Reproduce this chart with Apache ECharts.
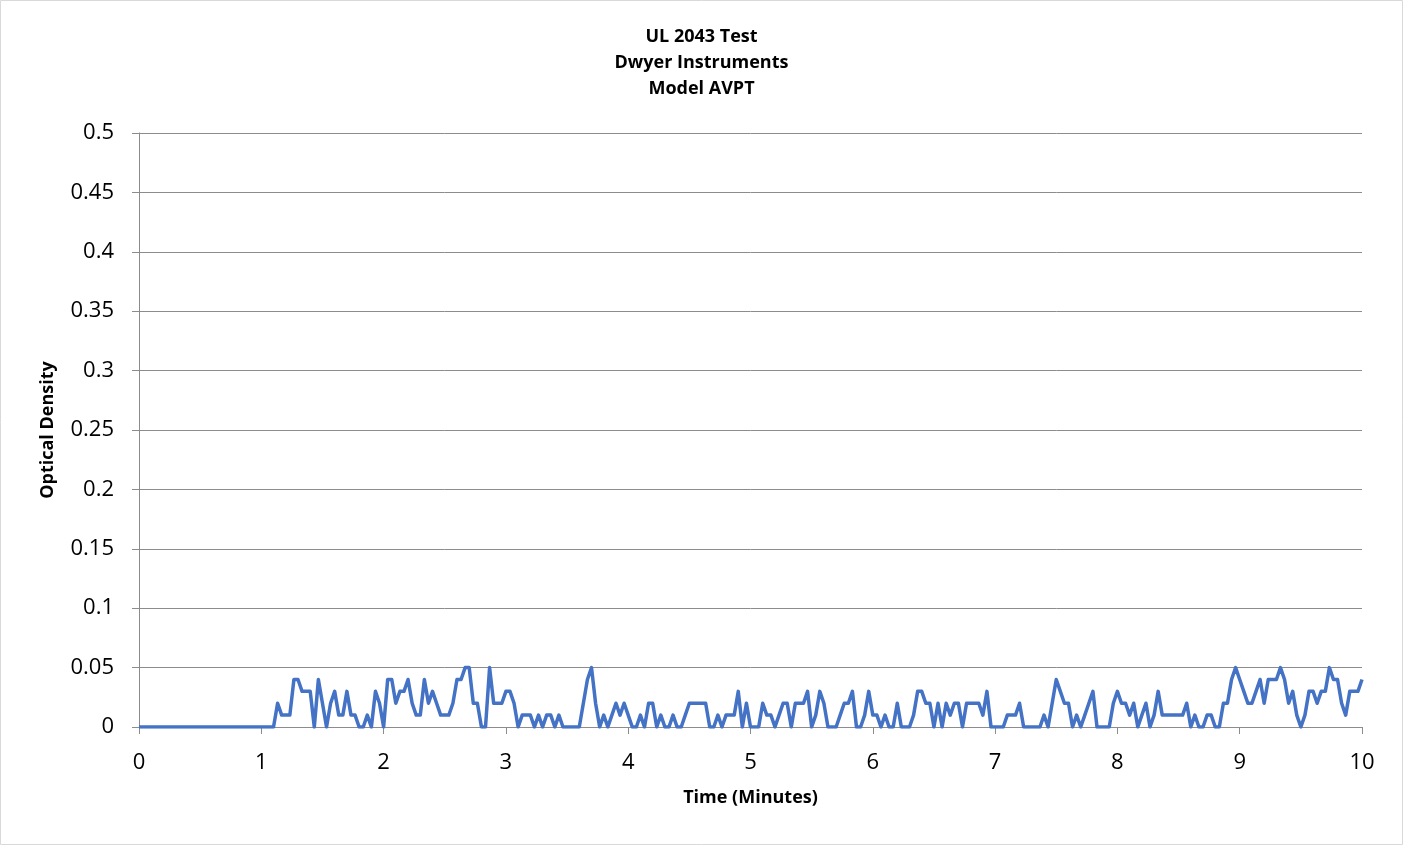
<!DOCTYPE html>
<html>
<head>
<meta charset="utf-8">
<script src="https://cdn.jsdelivr.net/npm/echarts@6/dist/echarts.min.js"></script>
<style>
html,body{margin:0;padding:0;background:#fff;}
#chart{width:1403px;height:845px;}
</style>
</head>
<body>
<div id="chart"></div>
<script>
// Chart text
const titleLines = ["UL 2043 Test", "Dwyer Instruments", "Model AVPT"];
const xAxisTitle = "Time (Minutes)";
const yAxisTitle = "Optical Density";

// Sampling step of the recorded series (seconds between readings)
const sampleSeconds = 2;

// Optical density readings, one every sampleSeconds, from t = 0 to 10 minutes
const opticalDensity = [
  0,0,0,0,0,0,0,0,0,0, 0,0,0,0,0,0,0,0,0,0, 0,0,0,0,0,0,0,0,0,0, 0,0,0,0,
  0.02,0.01,0.01,0.01,0.04,0.04,0.03,0.03,0.03,0,
  0.04,0.02,0,0.02,0.03,0.01,0.01,0.03,0.01,0.01,
  0,0,0.01,0,0.03,0.02,0,0.04,0.04,0.02,
  0.03,0.03,0.04,0.02,0.01,0.01,0.04,0.02,0.03,0.02,
  0.01,0.01,0.01,0.02,0.04,0.04,0.05,0.05,0.02,0.02,
  0,0,0.05,0.02,0.02,0.02,0.03,0.03,0.02,0,
  0.01,0.01,0.01,0,0.01,0,0.01,0.01,0,0.01,
  0,0,0,0,0,0.02,0.04,0.05,0.02,0,
  0.01,0,0.01,0.02,0.01,0.02,0.01,0,0,0.01,
  0,0.02,0.02,0,0.01,0,0,0.01,0,0,
  0.01,0.02,0.02,0.02,0.02,0.02,0,0,0.01,0,
  0.01,0.01,0.01,0.03,0,0.02,0,0,0,0.02,
  0.01,0.01,0,0.01,0.02,0.02,0,0.02,0.02,0.02,
  0.03,0,0.01,0.03,0.02,0,0,0,0.01,0.02,
  0.02,0.03,0,0,0.01,0.03,0.01,0.01,0,0.01,
  0,0,0.02,0,0,0,0.01,0.03,0.03,0.02,
  0.02,0,0.02,0,0.02,0.01,0.02,0.02,0,0.02,
  0.02,0.02,0.02,0.01,0.03,0,0,0,0,0.01,
  0.01,0.01,0.02,0,0,0,0,0,0.01,0,
  0.02,0.04,0.03,0.02,0.02,0,0.01,0,0.01,0.02,
  0.03,0,0,0,0,0.02,0.03,0.02,0.02,0.01,
  0.02,0,0.01,0.02,0,0.01,0.03,0.01,0.01,0.01,
  0.01,0.01,0.01,0.02,0,0.01,0,0,0.01,0.01,
  0,0,0.02,0.02,0.04,0.05,0.04,0.03,0.02,0.02,
  0.03,0.04,0.02,0.04,0.04,0.04,0.05,0.04,0.02,0.03,
  0.01,0,0.01,0.03,0.03,0.02,0.03,0.03,0.05,0.04,
  0.04,0.02,0.01,0.03,0.03,0.03,0.04
];

// Axis ranges and ticks
const xMin = 0, xMax = 10, xInterval = 1;
const yMin = 0, yMax = 0.5, yInterval = 0.05;

const seriesData = opticalDensity.map((v, i) => [i * sampleSeconds / 60, v]);

const labelFont = "'Open Sans', 'Noto Sans', sans-serif";
const boldFont = "'Open Sans', 'Noto Sans', sans-serif";
const gridColor = "#8c8c8c";

const chart = echarts.init(document.getElementById('chart'), null, {renderer: 'canvas'});
chart.setOption({
  backgroundColor: '#ffffff',
  animation: false,
  graphic: [{
    type: 'rect',
    shape: {x: 0.5, y: 0.5, width: 1402, height: 844},
    style: {fill: 'none', stroke: '#d9d9d9', lineWidth: 1},
    silent: true
  }],
  title: {
    text: titleLines.join('\n'),
    left: 'center',
    top: 19,
    textStyle: {
      fontFamily: boldFont,
      fontSize: 18,
      fontWeight: 'bold',
      color: '#000',
      lineHeight: 26
    }
  },
  grid: {left: 139, right: 41, top: 133, bottom: 118, containLabel: false},
  xAxis: {
    type: 'value',
    min: xMin, max: xMax, interval: xInterval,
    name: xAxisTitle,
    nameLocation: 'middle',
    nameGap: 62,
    nameTextStyle: {fontFamily: boldFont, fontSize: 18, fontWeight: 'bold', color: '#000'},
    axisLine: {show: true, lineStyle: {color: gridColor, width: 1}},
    axisTick: {show: true, length: 7, lineStyle: {color: gridColor}},
    axisLabel: {fontFamily: labelFont, fontSize: 22, color: '#000', margin: 25},
    splitLine: {show: false}
  },
  yAxis: {
    type: 'value',
    min: yMin, max: yMax, interval: yInterval,
    name: yAxisTitle,
    nameLocation: 'middle',
    nameGap: 82,
    nameTextStyle: {fontFamily: boldFont, fontSize: 18, fontWeight: 'bold', color: '#000'},
    axisLine: {show: true, lineStyle: {color: gridColor, width: 1}},
    axisTick: {show: true, length: 7, lineStyle: {color: gridColor}},
    axisLabel: {
      fontFamily: labelFont, fontSize: 22, color: '#000', margin: 25,
      formatter: v => String(Math.round(v * 100) / 100)
    },
    splitLine: {show: true, lineStyle: {color: gridColor, width: 1}}
  },
  series: [{
    type: 'line',
    data: seriesData,
    showSymbol: false,
    symbol: 'none',
    lineStyle: {color: '#4472C4', width: 3.5, join: 'round'},
    itemStyle: {color: '#4472C4'}
  }]
});
</script>
</body>
</html>
